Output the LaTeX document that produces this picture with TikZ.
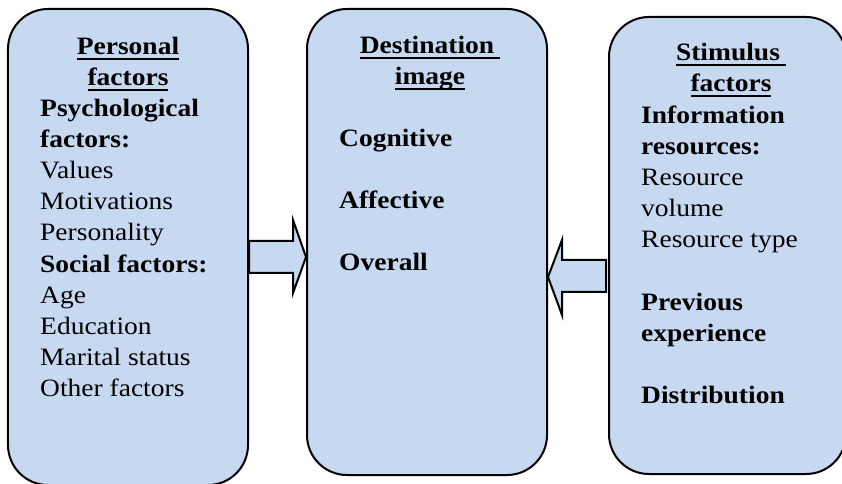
\documentclass[tikz,border=0pt]{standalone}
\usepackage{fontspec}
\setmainfont{Liberation Serif}[FakeStretch=1.1]
\usetikzlibrary{calc}
\definecolor{boxblue}{RGB}{198,217,240}
% underline drawn as a rule beneath a word
\newcommand\undl[1]{\setbox0\hbox{#1}\rlap{\rule[-5bp]{\wd0}{1.8bp}}\box0}
\tikzset{
  panel/.style={draw, line width=2bp, fill=boxblue, rounded corners=40bp,
    rectangle, inner sep=0pt},
  heading/.style={anchor=base, inner sep=0pt, align=center,
    font=\fontsize{25bp}{31bp}\selectfont\bfseries},
  body/.style={anchor=base west, inner sep=0pt, align=left,
    font=\fontsize{25bp}{31bp}\selectfont},
  blockarrow/.style={draw, line width=2bp, fill=boxblue, line join=miter},
}
\begin{document}
\begin{tikzpicture}[x=1bp, y=-1bp]
\useasboundingbox (0,0) rectangle (842,484);

% three panels
\node[panel, minimum width=240bp, minimum height=476bp] (personal) at (128,247) {};
\node[panel, minimum width=240bp, minimum height=466bp] (destination) at (427,242) {};
\node[panel, minimum width=237bp, minimum height=457bp] (stimulus) at (727.5,245.5) {};

% block arrow from the personal panel into the destination panel
\draw[blockarrow] ($(personal.east)+(0,-6)$) -- ++(44,0) -- ++(0,-21)
  -- ($(destination.west)+(0,15)$)
  -- ($(personal.east)+(44,46)$) -- ++(0,-20) -- ($(personal.east)+(0,26)$) -- cycle;

% block arrow from the stimulus panel into the destination panel
\draw[blockarrow] ($(stimulus.west)+(-2,14.5)$) -- ++(-44,0) -- ++(0,-20)
  -- ($(destination.east)+(0,35)$)
  -- ($(stimulus.west)+(-46,69.5)$) -- ++(0,-23) -- ($(stimulus.west)+(-2,46.5)$) -- cycle;

% personal factors
\node[heading] (personaltitle) at (128,86) {\undl{Personal}\\\undl{factors}};
\node[body] (personaltext) at (40,396) {%
  \textbf{Psychological}\\
  \textbf{factors:}\\
  Values\\
  Motivations\\
  Personality\\
  \textbf{Social factors:}\\
  Age\\
  Education\\
  Marital status\\
  Other factors};

% destination image
\node[heading] (destinationtitle) at (430,85) {\undl{Destination\kern6bp}\\\undl{image}};
\node[body, font=\fontsize{25bp}{31bp}\selectfont\bfseries] (destinationtext) at (339,271) {%
  Cognitive\\[31bp]
  Affective\\[31bp]
  Overall};

% stimulus factors
\node[heading] (stimulustitle) at (731,92) {\undl{Stimulus\kern6bp}\\\undl{factors}};
\node[body] (stimulustext) at (641,403) {%
  \textbf{Information}\\
  \textbf{resources:}\\
  Resource\\
  volume\\
  Resource type\\[31bp]
  \textbf{Previous}\\
  \textbf{experience}\\[31bp]
  \textbf{Distribution}};
\end{tikzpicture}
\end{document}
